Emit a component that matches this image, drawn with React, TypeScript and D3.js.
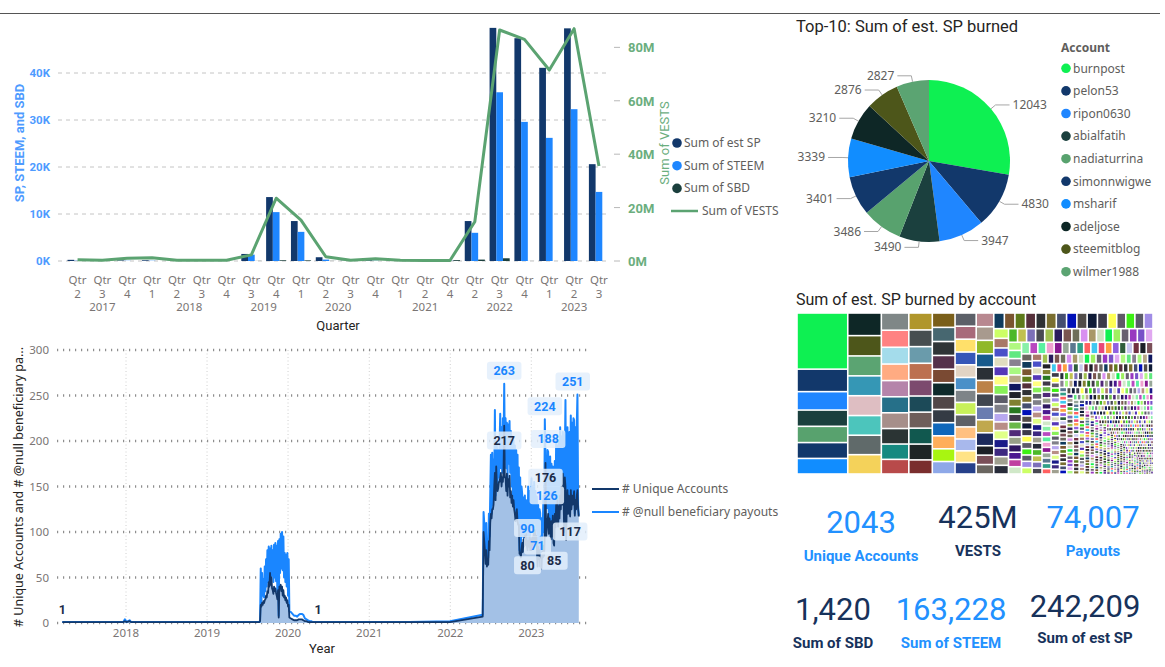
import React from "react";
import * as d3 from "d3";

const W = 1165;
const H = 667;
const uiFont = "'Segoe UI', 'Noto Sans', sans-serif";
const dinFont = "'DIN', 'Roboto', sans-serif";

// ---------- quarterly combo chart ----------
const quarterYears = ["2017", "2017", "2017", "2018", "2018", "2018", "2018", "2019", "2019", "2020", "2020", "2020", "2020", "2021", "2021", "2021", "2022", "2022", "2022", "2023", "2023", "2023"];
const quarterNums = [2, 3, 4, 1, 2, 3, 4, 3, 4, 1, 2, 3, 4, 1, 2, 4, 2, 3, 4, 1, 2, 3];
const estSP = [250, 30, 120, 150, 30, 40, 60, 1500, 13600, 8500, 800, 60, 150, 50, 40, 120, 8500, 49600, 47400, 41100, 49500, 20600];
const steem = [50, 10, 40, 50, 10, 10, 20, 1350, 10400, 6200, 300, 20, 50, 20, 10, 40, 6000, 35900, 29600, 26200, 32300, 14700];
const sbd = [5, 0, 2, 3, 0, 1, 1, 20, 150, 130, 20, 2, 5, 2, 1, 180, 300, 580, 10, 5, 3, 0];
const vestsM = [0.5, 0.3, 1.0, 1.2, 0.3, 0.3, 0.3, 2.3, 23.5, 15.3, 1.6, 0.3, 0.8, 0.3, 0.2, 0.2, 14.7, 86.5, 83, 71.5, 87, 35.6];
const leftTicks = [0, 10000, 20000, 30000, 40000];
const rightTicks = [0, 20, 40, 60, 80];

// ---------- daily chart ----------
const sparseDates = ["2017-03-20", "2017-06-01", "2017-09-01", "2017-12-20", "2017-12-27", "2018-01-03", "2018-01-17", "2018-01-24", "2018-06-01", "2019-01-01", "2019-08-25", "2020-05-15", "2020-07-01", "2021-01-01", "2021-07-01", "2021-12-31", "2022-05-27"];
const sparsePayouts = [1, 1, 1, 1, 4, 1, 3, 1, 1, 1, 1, 1, 1, 1, 1, 2, 9];
const sparseAccounts = [1, 1, 1, 1, 2, 1, 2, 1, 1, 1, 1, 1, 1, 1, 1, 1, 7];

const run2019Start = "2019-08-28"; // every 3 days
const run2019Payouts = [3, 60, 22, 55, 30, 48, 28, 62, 35, 70, 40, 80, 45, 84, 50, 82, 48, 85, 52, 80, 45, 86, 50, 88, 46, 85, 30, 90, 8, 92, 55, 98, 60, 100, 58, 95, 50, 77, 45, 75, 40, 77, 30, 70, 13];
const run2019Accounts = [2, 20, 18, 22, 20, 24, 22, 25, 26, 30, 28, 35, 33, 45, 40, 55, 42, 50, 38, 36, 32, 40, 35, 38, 33, 30, 26, 36, 6, 40, 38, 42, 35, 40, 30, 36, 28, 30, 25, 28, 22, 25, 18, 20, 6];

const run2020Start = "2020-01-14"; // weekly
const run2020Payouts = [12, 10, 8, 8, 7, 9, 10, 10, 9, 5, 4, 3, 2, 2, 1];
const run2020Accounts = [5, 4, 3, 3, 3, 4, 4, 4, 3, 2, 2, 1, 1, 1, 1];

const run2022Start = "2022-05-31"; // every 3 days
const run2022Payouts = [
  122, 110, 100, 75, 110, 68, 90, 72, 120, 95,
  140, 185, 120, 187, 130, 180, 150, 234, 140, 200,
  194, 150, 190, 160, 195, 230, 170, 215, 165, 225,
  190, 263, 180, 225, 170, 220, 160, 218, 175, 222,
  165, 211, 150, 205, 140, 200, 130, 195, 120, 190,
  125, 185, 115, 171, 80, 160, 77, 150, 142, 95,
  138, 92, 140, 100, 135, 91, 90, 150, 88, 145,
  84, 148, 159, 105, 150, 100, 155, 110, 145, 102,
  139, 71, 130, 77, 125, 121, 75, 115, 80, 110,
  140, 100, 224, 180, 160, 126, 190, 188, 105, 175,
  183, 95, 175, 100, 172, 92, 92, 178, 115, 201,
  120, 195, 110, 198, 125, 215, 140, 205, 138, 210,
  200, 120, 180, 245, 125, 160, 215, 130, 205, 210,
  125, 228, 140, 220, 138, 225, 223, 120, 215, 125,
  218, 251, 130, 118,
];
const run2022Accounts = [
  100, 90, 80, 65, 80, 62, 70, 64, 90, 80,
  110, 120, 115, 125, 125, 130, 150, 165, 135, 172,
  150, 145, 148, 155, 155, 160, 165, 150, 160, 155,
  170, 217, 160, 160, 145, 164, 140, 158, 150, 162,
  138, 145, 132, 140, 128, 135, 125, 120, 112, 118,
  125, 112, 108, 108, 76, 77, 72, 80, 88, 78,
  92, 84, 96, 86, 98, 85, 80, 90, 84, 95,
  80, 92, 80, 94, 86, 98, 88, 102, 90, 96,
  85, 62, 84, 70, 80, 62, 70, 60, 78, 72,
  85, 74, 100, 176, 95, 105, 110, 120, 98, 115,
  108, 92, 112, 95, 118, 88, 85, 120, 105, 130,
  110, 135, 106, 128, 115, 140, 125, 150, 130, 164,
  145, 100, 160, 150, 91, 130, 146, 120, 140, 125,
  117, 146, 125, 140, 130, 138, 145, 118, 135, 125,
  140, 146, 125, 117,
];
const yearTicks = [2018, 2019, 2020, 2021, 2022, 2023];
const countTicks = [0, 50, 100, 150, 200, 250, 300];
const pointLabels = [
  { run: "sparse", i: 0, s: "accounts", pos: "above", box: false },
  { run: "sparse", i: 11, s: "accounts", pos: "above", box: false },
  { run: "r2022", i: 31, s: "payouts", pos: "above", box: true },
  { run: "r2022", i: 31, s: "accounts", pos: "below", box: true },
  { run: "r2022", i: 92, s: "payouts", pos: "above", box: true },
  { run: "r2022", i: 97, s: "payouts", pos: "above", box: true },
  { run: "r2022", i: 93, s: "accounts", pos: "below", box: true },
  { run: "r2022", i: 95, s: "payouts", pos: "above", box: true },
  { run: "r2022", i: 66, s: "payouts", pos: "above", box: true },
  { run: "r2022", i: 81, s: "payouts", pos: "above", box: true },
  { run: "r2022", i: 66, s: "accounts", pos: "below", box: true },
  { run: "r2022", i: 106, s: "accounts", pos: "below", box: true },
  { run: "r2022", i: 130, s: "accounts", pos: "below", box: true },
  { run: "r2022", i: 141, s: "payouts", pos: "above", box: true },
];

// ---------- top-10 pie ----------
const pieAccounts = ["burnpost", "pelon53", "ripon0630", "abialfatih", "nadiaturrina", "simonnwigwe", "msharif", "adeljose", "steemitblog", "wilmer1988"];
const pieValues = [12043, 4830, 3947, 3490, 3486, 3401, 3339, 3210, 2876, 2827];
const pieColors = ["#0EF052", "#12386B", "#1F86FF", "#1B403E", "#58A26E", "#12386B", "#118DFF", "#0E2726", "#4D561A", "#5BA472"];

// ---------- treemap (all accounts) ----------
const largeAccountSP = [
  2820, 2810, 2790, 2760, 2740,
  2000, 1980, 1950, 1920, 1880, 1860, 1830, 1800, 1780,
  1700, 1680, 1660, 1650, 1630, 1620, 1600, 1590, 1580, 1570,
  1400, 1380, 1360, 1340, 1320, 1300, 1290, 1280, 1270, 1260, 1250,
  1220, 1200, 1180, 1160, 1150, 1140, 1130, 1120, 1110, 1100, 1090, 1080,
  1060, 1040, 1030, 1020, 1010, 1000, 990, 985, 980, 975, 970, 965, 960,
];
// [approx. SP, number of accounts]
const smallAccountTiers = [
  [700, 6], [680, 8], [600, 7], [580, 7], [540, 7], [520, 7], [470, 8], [450, 8], [420, 8], [400, 8],
  [350, 8], [330, 8], [300, 9], [285, 9], [260, 15], [245, 15], [220, 15], [205, 15], [185, 18], [170, 18],
  [150, 21], [140, 21], [125, 24], [115, 24], [100, 27], [92, 27], [80, 33], [72, 33], [62, 39], [55, 39],
  [47, 40], [42, 40], [35, 60], [30, 60], [25, 80], [21, 80], [17, 100], [14, 50],
];
const treeColors = [
  ...pieColors,
  "#3597B5", "#DEBEC2", "#4CC5BC", "#606A6A", "#F4D25A",
  "#7F8787", "#FF8282", "#A4DCEB", "#FFAB82", "#B584AA", "#267089", "#A68F8A", "#2B3434", "#168980",
  "#B84A4A", "#B0962B", "#474E50", "#6A9BAB", "#BC7050", "#7C4A6E", "#1C4A58", "#6E5E5A", "#11584F", "#1E2526",
  "#7A2E2E", "#7A5F1A", "#476770", "#2F3436", "#55314B", "#7A4A33", "#0E2A2B", "#514748", "#343B44", "#0F67BA", "#FFAE5A",
  "#A8F511", "#8EA8E8", "#5C6068", "#A86A7A", "#FFE06A", "#3657B8", "#E2D4C4", "#4A90C8", "#7E8488", "#C8F05A", "#5E6066", "#FFC080",
  "#A8B8EC", "#FFE386", "#26408A", "#B88890", "#A89A8E", "#90B828", "#175A8C", "#2A3036", "#BC8248", "#404650", "#6A7CB0", "#C0A84E", "#1C2A5C",
];
const tailPalette = [
  "#1C1F26", "#7A4F58", "#6A6660", "#0F3A5C", "#7A5530", "#5E7A1A", "#55303A", "#2E3034", "#7A6E30", "#454E70",
  "#0010B8", "#514C48", "#0E1A36", "#3C3A4A", "#FFFF55", "#605A68", "#3CF014", "#5A5A68", "#A08CE6", "#CCFF66",
  "#A87868", "#4A50C8", "#E0DEC0", "#5538B8", "#FFFF80", "#88F058", "#5C5C68", "#808088", "#B8A8F0", "#B88E86",
  "#E0FF88", "#1A1A88", "#3D2880", "#A0A090", "#282C3A", "#4CB828", "#C0C050", "#7C70B8", "#484A52", "#A0C050",
  "#2A1C5C", "#7A5550", "#6E6E5A", "#D890F0", "#A89868", "#D0E0C0", "#10F050", "#A0F060", "#686070", "#9838C0",
  "#7850C8", "#E0A8F0", "#B0F880", "#60E880", "#888090", "#A8F880", "#B8A888", "#101860", "#202028", "#808030",
  "#287820", "#403848", "#6AB848", "#502878", "#98A088", "#301860", "#4B1890", "#C040A0", "#D0E8C8", "#88F0A8",
  "#B848C0", "#5AF0A0", "#F0A0D0", "#881890", "#98A898", "#5A7890", "#30A088", "#FF6060", "#40C8F0", "#E84878",
  "#FFA040", "#9060E0", "#2E5E3A", "#C8C8F0", "#703040",
];

// ---------- cards ----------
const cardValues = ["2043", "425M", "74,007", "1,420", "163,228", "242,209"];
const cardLabels = ["Unique Accounts", "VESTS", "Payouts", "Sum of SBD", "Sum of STEEM", "Sum of est SP"];

const NAVY = "#12386B";
const BLUE = "#1E86FF";
const TEAL = "#1B3F3D";
const GREEN = "#5BA371";
const CARD_DARK = "#17325B";
const CARD_BLUE = "#2291FF";

function QuarterChart() {
  const keys = quarterNums.map((q, i) => `${quarterYears[i]}-${q}`);
  const x = d3.scaleBand<string>().domain(keys).range([67.5, 609]).paddingInner(0.19);
  const xs = d3.scaleBand<string>().domain(["sp", "steem", "sbd"]).range([0, x.bandwidth()]);
  const yL = d3.scaleLinear().domain([0, 50000]).range([261, 26]);
  const yR = d3.scaleLinear().domain([0, 88]).range([261, 26]);
  const series = [
    { key: "sp", vals: estSP, color: NAVY },
    { key: "steem", vals: steem, color: BLUE },
    { key: "sbd", vals: sbd, color: TEAL },
  ];
  const cx = (i: number) => (x(keys[i]) as number) + x.bandwidth() / 2;
  const line = d3.line<number>().x((_, i) => cx(i)).y((v) => yR(v));
  const years = Array.from(new Set(quarterYears));
  return (
    <g>
      {leftTicks.map((t) => (
        <g key={t}>
          <line x1={58} x2={610} y1={yL(t)} y2={yL(t)} stroke="#C4C4C4" strokeDasharray="4 4" />
          <text x={50} y={yL(t) + 4} textAnchor="end" fontFamily={dinFont} fontWeight={700} fontSize={11.5} fill="#4E9BFF">
            {t / 1000}K
          </text>
        </g>
      ))}
      {rightTicks.map((t) => (
        <g key={t}>
          <line x1={614} x2={620} y1={yR(t)} y2={yR(t)} stroke="#B8B8B8" />
          <text x={628} y={yR(t) + 5} fontFamily={dinFont} fontWeight={700} fontSize={13} fill="#6BAE7E">
            {t}M
          </text>
        </g>
      ))}
      {series.map((s) =>
        s.vals.map((v, i) => (
          <rect
            key={s.key + i}
            x={(x(keys[i]) as number) + (xs(s.key) as number)}
            y={yL(v)}
            width={xs.bandwidth()}
            height={Math.max(0, yL(0) - yL(v))}
            fill={s.color}
          />
        ))
      )}
      <path d={line(vestsM) || ""} fill="none" stroke={GREEN} strokeWidth={3} strokeLinejoin="round" />
      {keys.map((k, i) => (
        <g key={k} fontSize={11.5} fill="#7A7574" textAnchor="middle">
          <text x={cx(i)} y={284}>Qtr</text>
          <text x={cx(i)} y={298}>{quarterNums[i]}</text>
        </g>
      ))}
      {years.map((y) => {
        const idx = keys.map((k, i) => (quarterYears[i] === y ? i : -1)).filter((i) => i >= 0);
        const mid = (cx(idx[0]) + cx(idx[idx.length - 1])) / 2;
        return (
          <text key={y} x={mid} y={311} textAnchor="middle" fontSize={11.5} fill="#7A7574">
            {y}
          </text>
        );
      })}
      <text x={338} y={330} textAnchor="middle" fontFamily={dinFont} fontSize={13} fill="#252423">
        Quarter
      </text>
      <text transform="translate(24,143) rotate(-90)" textAnchor="middle" fontFamily={dinFont} fontWeight={700} fontSize={13} fill="#4E9BFF">
        SP, STEEM, and SBD
      </text>
      <text transform="translate(669,143) rotate(-90)" textAnchor="middle" fontFamily={dinFont} fontSize={13} fill="#6BAE7E">
        Sum of VESTS
      </text>
      {series.map((s, i) => (
        <g key={s.key}>
          <circle cx={677} cy={143 + i * 22.7} r={4.8} fill={s.color} />
          <text x={684} y={147 + i * 22.7} fontSize={12} fill="#605E5C">
            {["Sum of est SP", "Sum of STEEM", "Sum of SBD"][i]}
          </text>
        </g>
      ))}
      <line x1={671} x2={698} y1={211} y2={211} stroke={GREEN} strokeWidth={2.5} />
      <text x={702} y={215} fontSize={12} fill="#605E5C">
        Sum of VESTS
      </text>
    </g>
  );
}

type Pt = { date: Date; payouts: number; accounts: number };

function buildDaily() {
  const parse = d3.timeParse("%Y-%m-%d");
  const runs: Record<string, Pt[]> = {};
  runs.sparse = sparseDates.map((d, i) => ({ date: parse(d) as Date, payouts: sparsePayouts[i], accounts: sparseAccounts[i] }));
  const mk = (start: string, step: number, p: number[], a: number[]) =>
    p.map((v, i) => ({ date: d3.timeDay.offset(parse(start) as Date, i * step), payouts: v, accounts: a[i] }));
  runs.r2019 = mk(run2019Start, 3, run2019Payouts, run2019Accounts);
  runs.r2020 = mk(run2020Start, 7, run2020Payouts, run2020Accounts);
  runs.r2022 = mk(run2022Start, 3, run2022Payouts, run2022Accounts);
  const all = [...runs.sparse, ...runs.r2019, ...runs.r2020, ...runs.r2022].sort((a, b) => +a.date - +b.date);
  return { runs, all };
}

function DailyChart() {
  const { runs, all } = buildDaily();
  const x = d3.scaleTime().domain([new Date(2017, 1, 24), new Date(2023, 8, 9)]).range([57, 587]);
  const y = d3.scaleLinear().domain([0, 300]).range([623, 350]);
  const area = d3.area<Pt>().x((d) => x(d.date)).y0(y(0)).y1((d) => y(d.accounts));
  const lineP = d3.line<Pt>().x((d) => x(d.date)).y((d) => y(d.payouts));
  const lineA = d3.line<Pt>().x((d) => x(d.date)).y((d) => y(d.accounts));
  return (
    <g>
      {yearTicks.map((yr) => {
        const xx = x(new Date(yr, 0, 1));
        return (
          <g key={yr}>
            <line x1={xx} x2={xx} y1={350} y2={623} stroke="#CFCFCF" strokeDasharray="1 2.5" />
            <text x={xx} y={637} textAnchor="middle" fontSize={11.5} fill="#7A7574">
              {yr}
            </text>
          </g>
        );
      })}
      {countTicks.map((t) => (
        <g key={t}>
          <line x1={57} x2={587} y1={y(t)} y2={y(t)} stroke="#8E8E8E" strokeWidth={2.6} strokeDasharray="1.2 4.8" />
          <text x={49} y={y(t) + 4} textAnchor="end" fontSize={11.5} fill="#7A7574">
            {t}
          </text>
        </g>
      ))}
      <path d={area(all) || ""} fill="#A3C1E6" />
      <path d={lineP(all) || ""} fill="none" stroke="#1A86FF" strokeWidth={2} strokeLinejoin="round" />
      <path d={lineA(all) || ""} fill="none" stroke={NAVY} strokeWidth={1.8} strokeLinejoin="round" />
      {pointLabels.map((l, k) => {
        const p = runs[l.run][l.i];
        const v = l.s === "payouts" ? p.payouts : p.accounts;
        const w = String(v).length * 7.5 + 12;
        let px = x(p.date);
        px = Math.min(px, 587 - w / 2 + 3);
        const py = y(v) + (l.pos === "above" ? -13 : 15);
        return (
          <g key={k}>
            {l.box && <rect x={px - w / 2} y={py - 9} width={w} height={18} rx={3} fill="#E3EEFB" fillOpacity={0.85} />}
            <text x={px} y={py + 4.5} textAnchor="middle" fontFamily={dinFont} fontWeight={700} fontSize={12.5} fill={l.s === "payouts" ? "#1A86FF" : "#1B2B48"}>
              {v}
            </text>
          </g>
        );
      })}
      <text x={322} y={653} textAnchor="middle" fontFamily={dinFont} fontSize={13} fill="#252423">
        Year
      </text>
      <text transform="translate(23,487) rotate(-90)" textAnchor="middle" fontSize={12.5} fill="#252423">
        # Unique Accounts and # @null beneficiary pa...
      </text>
      <line x1={592} x2={619} y1={489} y2={489} stroke={NAVY} strokeWidth={2} />
      <text x={622} y={493} fontSize={12} fill="#605E5C">
        # Unique Accounts
      </text>
      <line x1={592} x2={619} y1={512} y2={512} stroke="#1A86FF" strokeWidth={2} />
      <text x={622} y={516} fontSize={12} fill="#605E5C">
        # @null beneficiary payouts
      </text>
    </g>
  );
}

function PieChart() {
  const cx = 929;
  const cy = 161;
  const r = 81;
  const arcs = d3.pie<number>().sort(null)(pieValues);
  const arc = d3.arc<d3.PieArcDatum<number>>().innerRadius(0).outerRadius(r);
  return (
    <g>
      <text x={796} y={32} fontFamily={dinFont} fontSize={16.5} fill="#252423">
        Top-10: Sum of est. SP burned
      </text>
      <g transform={`translate(${cx},${cy})`}>
        {arcs.map((a, i) => (
          <path key={i} d={arc(a) || ""} fill={pieColors[i]} />
        ))}
        {arcs.map((a, i) => {
          const m = (a.startAngle + a.endAngle) / 2;
          const sx = Math.sin(m);
          const sy = -Math.cos(m);
          const side = sx >= 0 ? 1 : -1;
          const p1 = [sx * r, sy * r];
          const p2 = [sx * (r + 6), sy * (r + 6)];
          const p3 = [p2[0] + side * 14, p2[1]];
          return (
            <g key={"l" + i}>
              <polyline points={`${p1} ${p2} ${p3}`} fill="none" stroke="#A6A6A6" />
              <text x={p3[0] + side * 3} y={p3[1] + 4} textAnchor={side > 0 ? "start" : "end"} fontSize={12} fill="#605E5C">
                {a.data}
              </text>
            </g>
          );
        })}
      </g>
      <text x={1061} y={52} fontWeight={700} fontSize={12} fill="#605E5C">
        Account
      </text>
      {pieAccounts.map((n, i) => (
        <g key={n}>
          <circle cx={1066} cy={68.3 + i * 22.6} r={4.8} fill={pieColors[i]} />
          <text x={1073} y={72.5 + i * 22.6} fontSize={12} fill="#605E5C">
            {n}
          </text>
        </g>
      ))}
    </g>
  );
}

function Treemap() {
  const values = [
    ...pieValues,
    ...largeAccountSP,
    ...smallAccountTiers.flatMap(([v, n]) => Array(n).fill(v)),
  ];
  const root = d3
    .hierarchy<any>({ children: values.map((v, i) => ({ v, i })) })
    .sum((d) => d.v || 0)
    .sort((a, b) => (b.value ?? 0) - (a.value ?? 0) || a.data.i - b.data.i);
  d3.treemap<any>().tile(d3.treemapSquarify).size([356, 161])(root);
  const colorOf = (i: number) => (i < treeColors.length ? treeColors[i] : tailPalette[(i - treeColors.length) % tailPalette.length]);
  return (
    <g>
      <text x={796} y={305} fontFamily={dinFont} fontSize={16} fill="#252423">
        Sum of est. SP burned by account
      </text>
      <g transform="translate(797,313)">
        {root.leaves().map((n: any) => {
          const w = n.x1 - n.x0;
          const h = n.y1 - n.y0;
          const gx = Math.min(1.6, w * 0.35);
          const gy = Math.min(1.6, h * 0.35);
          return <rect key={n.data.i} x={n.x0 + gx / 2} y={n.y0 + gy / 2} width={Math.max(0.4, w - gx)} height={Math.max(0.4, h - gy)} fill={colorOf(n.data.i)} />;
        })}
      </g>
    </g>
  );
}

function Cards() {
  const spots = [
    { x: 861, vy: 533, ly: 561, c: CARD_BLUE },
    { x: 978, vy: 528, ly: 556, c: CARD_DARK },
    { x: 1093, vy: 528, ly: 556, c: CARD_BLUE },
    { x: 833, vy: 620, ly: 648, c: CARD_DARK },
    { x: 951, vy: 620, ly: 648, c: CARD_BLUE },
    { x: 1085, vy: 617, ly: 643, c: CARD_DARK },
  ];
  return (
    <g textAnchor="middle">
      {cardValues.map((v, i) => (
        <g key={v}>
          <text x={spots[i].x} y={spots[i].vy} fontFamily={dinFont} fontSize={31} fill={spots[i].c}>
            {v}
          </text>
          <text x={spots[i].x} y={spots[i].ly} fontFamily={dinFont} fontWeight={700} fontSize={15} fill={spots[i].c}>
            {cardLabels[i]}
          </text>
        </g>
      ))}
    </g>
  );
}

export default function App() {
  return (
    <svg width={W} height={H} style={{ position: "absolute", left: 0, top: 0, background: "#fff" }} fontFamily={uiFont}>
      <line x1={0} x2={1160} y1={13.5} y2={13.5} stroke="#555" />
      <QuarterChart />
      <DailyChart />
      <PieChart />
      <Treemap />
      <Cards />
    </svg>
  );
}
